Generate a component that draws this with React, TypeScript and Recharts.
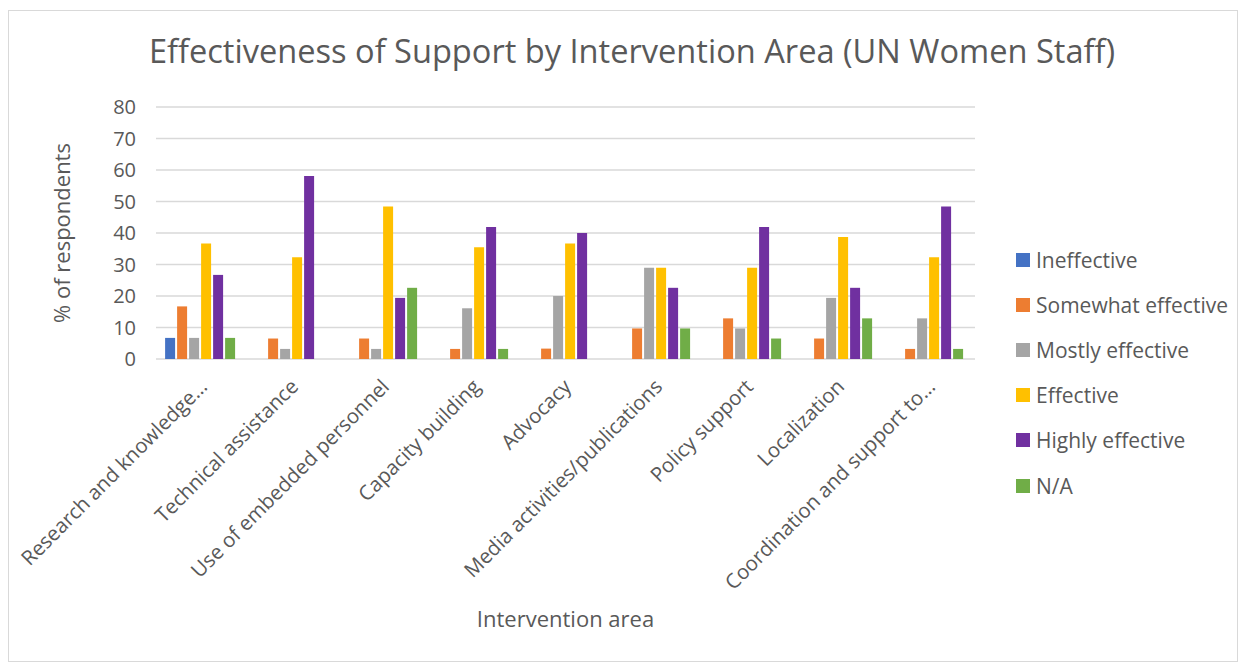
import React from "react";
import {
  BarChart,
  Bar,
  XAxis,
  YAxis,
  CartesianGrid,
  Legend,
} from "recharts";

const areas = [
  "Research and knowledge…",
  "Technical assistance",
  "Use of embedded personnel",
  "Capacity building",
  "Advocacy",
  "Media activities/publications",
  "Policy support",
  "Localization",
  "Coordination and support to…",
];

const ineffective = [6.7, 0, 0, 0, 0, 0, 0, 0, 0];
const somewhatEffective = [16.7, 6.5, 6.5, 3.2, 3.3, 9.7, 12.9, 6.5, 3.2];
const mostlyEffective = [6.7, 3.2, 3.2, 16.1, 20, 29, 9.7, 19.4, 12.9];
const effective = [36.7, 32.3, 48.4, 35.5, 36.7, 29, 29, 38.7, 32.3];
const highlyEffective = [26.7, 58.1, 19.4, 41.9, 40, 22.6, 41.9, 22.6, 48.4];
const notApplicable = [6.7, 0, 22.6, 3.2, 0, 9.7, 6.5, 12.9, 3.2];

const yTicks = [0, 10, 20, 30, 40, 50, 60, 70, 80];

const series = [
  { key: "Ineffective", values: ineffective, color: "#4472C4" },
  { key: "Somewhat effective", values: somewhatEffective, color: "#ED7D31" },
  { key: "Mostly effective", values: mostlyEffective, color: "#A5A5A5" },
  { key: "Effective", values: effective, color: "#FFC000" },
  { key: "Highly effective", values: highlyEffective, color: "#7030A0" },
  { key: "N/A", values: notApplicable, color: "#70AD47" },
];

const data = areas.map((name, i) => {
  const row: Record<string, string | number> = { name };
  series.forEach((s) => {
    row[s.key] = s.values[i];
  });
  return row;
});

const FONT = "'Open Sans', sans-serif";
const TEXT = "#595959";

const AreaTick = (props: any) => {
  const { x, y, payload } = props;
  const tx = x + 7;
  const ty = y + 21;
  return (
    <text
      x={tx}
      y={ty}
      transform={`rotate(-45, ${tx}, ${ty})`}
      textAnchor="end"
      fill={TEXT}
      fontSize={20.4}
      fontFamily={FONT}
    >
      {payload.value}
    </text>
  );
};

const LegendList = () => (
  <div style={{ fontFamily: FONT, fontSize: 21, color: TEXT }}>
    {series.map((s) => (
      <div
        key={s.key}
        style={{ display: "flex", alignItems: "center", height: 45.2 }}
      >
        <span
          style={{
            width: 14,
            height: 14,
            background: s.color,
            display: "inline-block",
            marginRight: 6,
          }}
        />
        <span>{s.key}</span>
      </div>
    ))}
  </div>
);

const App = () => {
  return (
    <div
      style={{
        position: "relative",
        width: 1228,
        height: 650,
        marginTop: 2,
        border: "1px solid #d9d9d9",
        background: "#fff",
      }}
    >
      <div
        style={{
          position: "absolute",
          top: 20,
          left: 0,
          right: 0,
          paddingLeft: 18,
          textAlign: "center",
          fontFamily: FONT,
          fontSize: 32.6,
          lineHeight: "40px",
          color: TEXT,
        }}
      >
        Effectiveness of Support by Intervention Area (UN Women Staff)
      </div>
      <BarChart
        width={1228}
        height={650}
        data={data}
        margin={{ top: 96, right: 262, left: 87, bottom: 34 }}
        barCategoryGap="10%"
        barGap={2}
      >
        <CartesianGrid
          vertical={false}
          stroke="#d9d9d9"
          strokeWidth={1.3}
        />
        <XAxis
          dataKey="name"
          interval={0}
          height={268}
          axisLine={false}
          tickLine={false}
          tick={<AreaTick />}
          label={{
            value: "Intervention area",
            position: "insideBottom",
            offset: 0,
            fill: TEXT,
            fontSize: 22,
            fontFamily: FONT,
          }}
        />
        <YAxis
          width={60}
          domain={[0, 80]}
          ticks={yTicks}
          axisLine={false}
          tickLine={false}
          tickMargin={14}
          tick={{ fill: TEXT, fontSize: 20, fontFamily: FONT }}
          label={{
            value: "% of respondents",
            angle: -90,
            position: "insideLeft",
            offset: -34,
            fill: TEXT,
            fontSize: 22,
            fontFamily: FONT,
            style: { textAnchor: "middle" },
          }}
        />
        <Legend
          layout="vertical"
          align="center"
          verticalAlign="middle"
          content={<LegendList />}
          wrapperStyle={{ left: 1007, top: 226, width: 220 }}
        />
        {series.map((s) => (
          <Bar
            key={s.key}
            dataKey={s.key}
            fill={s.color}
            isAnimationActive={false}
          />
        ))}
      </BarChart>
    </div>
  );
};

export default App;
